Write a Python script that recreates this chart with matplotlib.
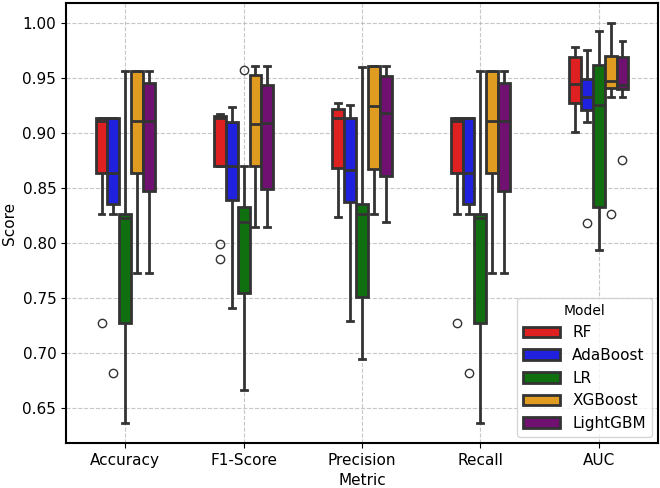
import numpy as np
import pandas as pd
import matplotlib
matplotlib.use("Agg")
import matplotlib.pyplot as plt
import seaborn as sns

metrics = ["Accuracy", "F1-Score", "Precision", "Recall", "AUC"]
models = ["RF", "AdaBoost", "LR", "XGBoost", "LightGBM"]
colors = ["red", "blue", "green", "orange", "purple"]

# fold scores (10 folds per model)
acc_rf = [0.7273, 0.8261, 0.8636, 0.8636, 0.9091, 0.9130, 0.9130, 0.9130, 0.9130, 0.9130]
acc_ada = [0.6818, 0.8261, 0.8261, 0.8636, 0.8636, 0.8636, 0.9130, 0.9130, 0.9130, 0.9130]
acc_lr = [0.6364, 0.6818, 0.7273, 0.7273, 0.8182, 0.8261, 0.8261, 0.8261, 0.8696, 0.9565]
acc_xgb = [0.7727, 0.8182, 0.8636, 0.8636, 0.9091, 0.9130, 0.9565, 0.9565, 0.9565, 0.9565]
acc_lgbm = [0.7727, 0.8182, 0.8261, 0.9091, 0.9091, 0.9130, 0.9130, 0.9565, 0.9565, 0.9565]

f1_rf = [0.7852, 0.7990, 0.8700, 0.8700, 0.9120, 0.9140, 0.9157, 0.9157, 0.9170, 0.9170]
f1_ada = [0.7406, 0.8000, 0.8385, 0.8385, 0.8700, 0.8700, 0.9094, 0.9094, 0.9150, 0.9230]
f1_lr = [0.6664, 0.7200, 0.7548, 0.7548, 0.8150, 0.8220, 0.8330, 0.8330, 0.8700, 0.9567]
f1_xgb = [0.8148, 0.8400, 0.8700, 0.8700, 0.9082, 0.9082, 0.9521, 0.9521, 0.9560, 0.9603]
f1_lgbm = [0.8148, 0.8300, 0.8491, 0.8491, 0.9088, 0.9088, 0.9436, 0.9436, 0.9500, 0.9603]

prec_rf = [0.8234, 0.8450, 0.8679, 0.8679, 0.9133, 0.9133, 0.9215, 0.9215, 0.9250, 0.9270]
prec_ada = [0.7291, 0.8000, 0.8367, 0.8367, 0.8664, 0.8664, 0.9133, 0.9133, 0.9200, 0.9255]
prec_lr = [0.6943, 0.7200, 0.7510, 0.7510, 0.8260, 0.8260, 0.8355, 0.8355, 0.8700, 0.9600]
prec_xgb = [0.8264, 0.8450, 0.8670, 0.8670, 0.9239, 0.9239, 0.9603, 0.9603, 0.9603, 0.9603]
prec_lgbm = [0.8185, 0.8400, 0.8603, 0.8603, 0.9179, 0.9179, 0.9512, 0.9512, 0.9550, 0.9603]

# recall (weighted) equals accuracy here
rec_rf = acc_rf
rec_ada = acc_ada
rec_lr = acc_lr
rec_xgb = acc_xgb
rec_lgbm = acc_lgbm

auc_rf = [0.9006, 0.9150, 0.9270, 0.9270, 0.9445, 0.9445, 0.9688, 0.9688, 0.9730, 0.9776]
auc_ada = [0.8179, 0.9094, 0.9209, 0.9209, 0.9324, 0.9324, 0.9491, 0.9491, 0.9600, 0.9755]
auc_lr = [0.7936, 0.8100, 0.8330, 0.8330, 0.9255, 0.9255, 0.9612, 0.9612, 0.9750, 0.9927]
auc_xgb = [0.8264, 0.9321, 0.9406, 0.9406, 0.9467, 0.9467, 0.9700, 0.9700, 0.9800, 1.0000]
auc_lgbm = [0.8755, 0.9321, 0.9397, 0.9397, 0.9436, 0.9436, 0.9688, 0.9688, 0.9750, 0.9836]

scores = {
    "Accuracy": [acc_rf, acc_ada, acc_lr, acc_xgb, acc_lgbm],
    "F1-Score": [f1_rf, f1_ada, f1_lr, f1_xgb, f1_lgbm],
    "Precision": [prec_rf, prec_ada, prec_lr, prec_xgb, prec_lgbm],
    "Recall": [rec_rf, rec_ada, rec_lr, rec_xgb, rec_lgbm],
    "AUC": [auc_rf, auc_ada, auc_lr, auc_xgb, auc_lgbm],
}

rows = []
for m in metrics:
    for name, vals in zip(models, scores[m]):
        for v in vals:
            rows.append({"Metric": m, "Model": name, "Score": v})
df = pd.DataFrame(rows)

fig, ax = plt.subplots(figsize=(6.6, 4.88), dpi=100)
sns.boxplot(data=df, x="Metric", y="Score", hue="Model", order=metrics,
            hue_order=models, palette=colors, width=0.5, linewidth=2,
            linecolor="#333333", ax=ax)
ax.grid(True, linestyle="--", alpha=0.7)
ax.set_axisbelow(True)
ax.set_ylim(0.618, 1.018)
ax.set_xlabel("Metric", fontsize=11)
ax.set_ylabel("Score", fontsize=11)
ax.tick_params(labelsize=11)
for s in ax.spines.values():
    s.set_linewidth(1.5)
ax.legend(title="Model", loc="lower right", fontsize=11, title_fontsize=10,
          handlelength=2.4, borderaxespad=0.4)
fig.subplots_adjust(left=0.1, right=0.997, top=0.994, bottom=0.092)
plt.savefig("out.png", dpi=100)
